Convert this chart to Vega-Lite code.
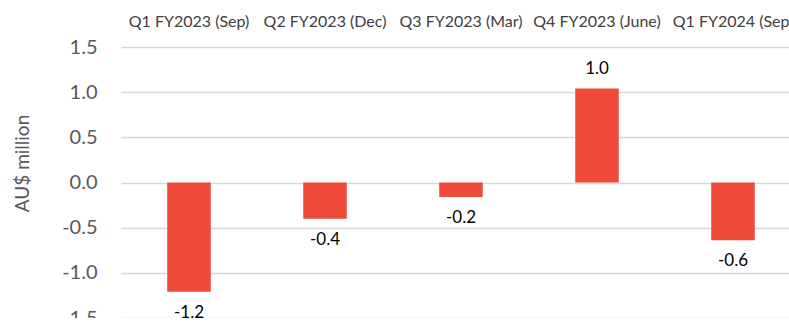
{
  "$schema": "https://vega.github.io/schema/vega-lite/v6.json",
  "autosize": "none",
  "width": 680,
  "height": 271,
  "padding": {"left": 121, "top": 47, "right": 0, "bottom": 0},
  "background": "white",
  "config": {
    "view": {"stroke": null},
    "font": "Lato",
    "locale": {"number": {"decimal": ".", "thousands": ",", "grouping": [3], "currency": ["$", ""], "minus": "-"}}
  },
  "data": {"values": [
    {"quarter": "Q1 FY2023 (Sep)", "value": -1.21},
    {"quarter": "Q2 FY2023 (Dec)", "value": -0.4},
    {"quarter": "Q3 FY2023 (Mar)", "value": -0.16},
    {"quarter": "Q4 FY2023 (June)", "value": 1.04},
    {"quarter": "Q1 FY2024 (Sep)", "value": -0.64}
  ]},
  "encoding": {
    "x": {"field": "quarter", "type": "nominal", "sort": null,
      "scale": {"paddingInner": 0.68, "paddingOuter": 0.34},
      "axis": {"orient": "top", "title": null, "labelAngle": 0, "domain": false, "ticks": false,
        "labelPadding": 18, "labelFontSize": 16, "labelColor": "#404040", "labelFont": "Lato", "labelOverlap": false, "labelBound": false}},
    "y": {"field": "value", "type": "quantitative",
      "scale": {"domain": [-1.5, 1.5], "nice": false, "zero": false},
      "axis": {"values": [-1.5, -1, -0.5, 0, 0.5, 1, 1.5], "format": ".1f", "domain": false, "ticks": false,
        "labelPadding": 24, "labelFontSize": 20, "labelColor": "#595959",
        "gridColor": "#D9D9D9", "gridWidth": 1.5,
        "title": "AU$  million", "titleFontSize": 19, "titleFontWeight": "normal", "titleColor": "#595959",
        "titleX": -99, "titleY": 116, "titleAngle": -90, "titleAlign": "center", "titleBaseline": "middle"}}
  },
  "layer": [
    {"mark": {"type": "bar", "color": "#EF4A3A"}},
    {"transform": [{"filter": "datum.value < 0"}],
     "mark": {"type": "text", "baseline": "top", "dy": 13, "fontSize": 17, "color": "#000000"},
     "encoding": {"text": {"field": "value", "type": "quantitative", "format": ".1f"}}},
    {"transform": [{"filter": "datum.value >= 0"}],
     "mark": {"type": "text", "baseline": "bottom", "dy": -11, "fontSize": 17, "color": "#000000"},
     "encoding": {"text": {"field": "value", "type": "quantitative", "format": ".1f"}}}
  ]
}
